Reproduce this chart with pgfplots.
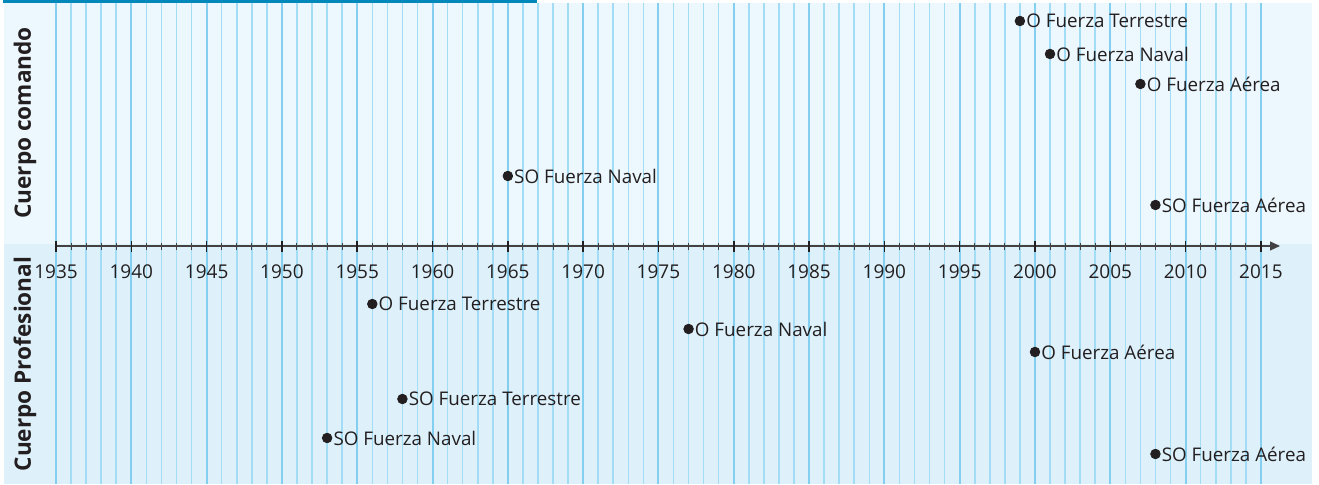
\documentclass[border=0pt]{standalone}
\usepackage{fontspec}
\setmainfont{Open Sans}
\usepackage{pgfplots}
\pgfplotsset{compat=1.18}
\usetikzlibrary{arrows.meta}

\definecolor{bgtop}{HTML}{EDF8FE}
\definecolor{bgbot}{HTML}{DEF1FB}
\definecolor{gridminor}{HTML}{A3DCF5}
\definecolor{gridmajor}{HTML}{84CFF0}
\definecolor{barblue}{HTML}{0088BB}
\definecolor{ink}{HTML}{231F20}

\begin{document}
\begin{tikzpicture}
\begin{axis}[
    scale only axis,
    width=659.5pt,
    height=242pt,
    xmin=1931.28, xmax=2018.86,
    ymin=-238, ymax=246,
    axis lines=none,
    clip=false,
    nodes near coords,
    point meta=explicit symbolic,
    nodes near coords align={horizontal},
    every node near coord/.append style={anchor=west, inner sep=1pt, xshift=2pt,
        font=\fontsize{9.4}{11}\selectfont, text=ink},
]
% panels
\path (rel axis cs:0,0) rectangle (rel axis cs:1,1);
\fill[bgtop] (axis cs:1931.55,243) rectangle (axis cs:2018.40,1.5);
\fill[bgbot] (axis cs:1931.55,1.5) rectangle (axis cs:2018.40,-238);
\fill[barblue] (axis cs:1931.48,246) rectangle (axis cs:1966.94,243);
% year lines
\pgfplotsinvokeforeach{1935,...,2015}{
  \draw[gridminor, line width=0.8pt] (axis cs:#1,243) -- (axis cs:#1,-238);
}
\pgfplotsinvokeforeach{1935,1940,...,2015}{
  \draw[gridmajor, line width=1pt] (axis cs:#1,243) -- (axis cs:#1,-238);
}
% time axis
\draw[ink!85, line width=0.6pt, -{Triangle[length=5pt,width=4.5pt]}]
    (axis cs:1935,0) -- (axis cs:2016.27,0);
\pgfplotsinvokeforeach{1935,...,2015}{
  \draw[ink!85, line width=0.5pt] (axis cs:#1,3) -- (axis cs:#1,-4);
}
\pgfplotsinvokeforeach{1935,1940,...,2015}{
  \draw[ink, line width=0.75pt] (axis cs:#1,5) -- (axis cs:#1,-6);
  \node[text=ink, font=\fontsize{9.5}{11}\selectfont] at (axis cs:#1,-26) {#1};
}
% row titles
\node[rotate=90, text=ink, font=\fontsize{11.3}{13}\bfseries] at (axis cs:1932.94,123) {Cuerpo comando};
\node[rotate=90, text=ink, font=\fontsize{11.3}{13}\bfseries] at (axis cs:1932.94,-118) {Cuerpo Profesional};

% Cuerpo comando
\addplot[only marks, mark=*, mark size=2.4pt, color=ink] coordinates {
    (1999,225)[O Fuerza Terrestre]
    (2001,192)[O Fuerza Naval]
    (2007,162)[O Fuerza Aérea]
    (1965,70)[SO Fuerza Naval]
    (2008,41)[SO Fuerza Aérea]
};
% Cuerpo Profesional
\addplot[only marks, mark=*, mark size=2.4pt, color=ink] coordinates {
    (1956,-58)[O Fuerza Terrestre]
    (1977,-83)[O Fuerza Naval]
    (2000,-106)[O Fuerza Aérea]
    (1958,-153)[SO Fuerza Terrestre]
    (1953,-192)[SO Fuerza Naval]
    (2008,-208)[SO Fuerza Aérea]
};
\end{axis}
\end{tikzpicture}
\end{document}
